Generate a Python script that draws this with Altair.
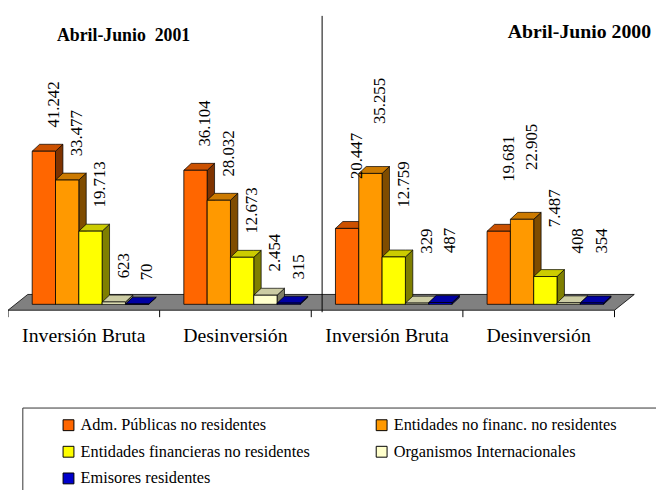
import altair as alt
import pandas as pd

# ---------------- data ----------------
periods = ["Abril-Junio \u00a02001", "Abril-Junio 2000"]
categories = ["Inversión Bruta", "Desinversión"]
series = [
    "Adm. Públicas no residentes",
    "Entidades no financ. no residentes",
    "Entidades financieras no residentes",
    "Organismos Internacionales",
    "Emisores residentes",
]
values_2001_inversion = [41242, 33477, 19713, 623, 70]
values_2001_desinversion = [36104, 28032, 12673, 2454, 315]
values_2000_inversion = [20447, 35255, 12759, 329, 487]
values_2000_desinversion = [19681, 22905, 7487, 408, 354]

colors = ["#FF6600", "#FF9900", "#FFFF00", "#FFFFCC", "#0000CC"]


def shade(hexc, f):
    r, g, b = (int(hexc[i:i + 2], 16) for i in (1, 3, 5))
    return "#%02X%02X%02X" % (int(r * f), int(g * f), int(b * f))


# legend is filled column by column: reorder so it reads row by row
legend_order = [0, 2, 4, 1, 3]
dom = [series[i] for i in legend_order]
front_rng = [colors[i] for i in legend_order]
top_rng = [shade(colors[i], 0.8) for i in legend_order]
side_rng = [shade(colors[i], 0.5) for i in legend_order]

# ---------------- geometry (scale set-up) ----------------
W, H = 656, 482
BAND = 153.5            # px per category band
PX_Y = 155 / 41242      # px per value unit
BASE = 297              # plot y of value 0
xs = alt.Scale(domain=[0, W / BAND], nice=False, zero=False)
ys = alt.Scale(domain=[(BASE - H) / PX_Y, BASE / PX_Y], nice=False, zero=False)

BAR_OFF = 24.5 / BAND
BAR_W = 23.6 / BAND
DX = 7.5 / BAND
DY = 7 / PX_Y
LABEL_SHIFT = 10 / BAND

panel_values = [
    [values_2001_inversion, values_2001_desinversion],
    [values_2000_inversion, values_2000_desinversion],
]

rows = []
for p in range(2):
    for g in range(2):
        band = 2 * p + g
        for s, name in enumerate(series):
            v = panel_values[p][g][s]
            x0 = band + BAR_OFF + s * BAR_W
            rows.append(dict(panel=p, band=band, cat=categories[g], serie=name,
                             v=v, x0=x0, x1=x0 + BAR_W, base=0,
                             xc=x0 + BAR_W / 2 + LABEL_SHIFT))
bars = pd.DataFrame(rows)

top_rows, side_rows = [], []
for i, r in bars.iterrows():
    v, x0, x1 = float(r.v), float(r.x0), float(r.x1)
    for (x, yt, yb) in [(x0, v, v), (x0 + DX, v + DY, v),
                        (x1, v + DY, v), (x1 + DX, v + DY, v + DY)]:
        top_rows.append(dict(bar=int(i), serie=r.serie, x=x, yt=yt, yb=yb))
    for (x, yt, yb) in [(x1, v, 0.0), (x1 + DX, v + DY, DY)]:
        side_rows.append(dict(bar=int(i), serie=r.serie, x=x, yt=yt, yb=yb))
tops = pd.DataFrame(top_rows)
sides = pd.DataFrame(side_rows)

FRONT_Y = -6 / PX_Y
BACK_Y = 10 / PX_Y
FLOOR_SHIFT = 20 / BAND
floor = pd.DataFrame(dict(
    x=[0.0, FLOOR_SHIFT, 4.0, 4 + FLOOR_SHIFT],
    yt=[FRONT_Y, BACK_Y, BACK_Y, BACK_Y],
    yb=[FRONT_Y, FRONT_Y, FRONT_Y, BACK_Y],
))

ticks = pd.DataFrame(dict(x=[0, 1, 2, 3, 4], y=[FRONT_Y] * 5, y2=[-13 / PX_Y] * 5))
cat_labels = pd.DataFrame(dict(
    x=[0.5, 1.5, 2.5, 3.5],
    y=[-38 / PX_Y] * 4,
    text=categories * 2,
))

FONT = "Liberation Serif"
one = pd.DataFrame({"a": [0]})

# ---------------- layers ----------------
legend_box = alt.Chart(one).mark_rect(
    fill="white", stroke="#333333", strokeWidth=1
).encode(x=alt.value(15), x2=alt.value(720), y=alt.value(402), y2=alt.value(560))

floor_layer = alt.Chart(floor).mark_area(
    orient="vertical", color="#808080", fillOpacity=1, opacity=1
).encode(
    x=alt.X("x:Q", scale=xs, axis=None),
    y=alt.Y("yt:Q", scale=ys, axis=None, stack=None),
    y2="yb:Q",
)

floor_edges = pd.DataFrame(dict(
    x=[0.0, FLOOR_SHIFT, 4.0],
    y=[FRONT_Y, BACK_Y, FRONT_Y],
    x2=[4.0, 4 + FLOOR_SHIFT, 4 + FLOOR_SHIFT],
    y2=[FRONT_Y, BACK_Y, BACK_Y],
))
floor_left = pd.DataFrame(dict(x=[0.0], y=[FRONT_Y], x2=[FLOOR_SHIFT], y2=[BACK_Y]))
edge_layer = alt.Chart(pd.concat([floor_edges, floor_left])).mark_rule(
    color="black", strokeWidth=0.8
).encode(
    x=alt.X("x:Q", scale=xs, axis=None), x2="x2:Q",
    y=alt.Y("y:Q", scale=ys, axis=None), y2="y2:Q",
)

tick_layer = alt.Chart(ticks).mark_rule(color="black", strokeWidth=1).encode(
    x=alt.X("x:Q", scale=xs, axis=None),
    y=alt.Y("y:Q", scale=ys, axis=None),
    y2="y2:Q",
)


def face_layer(df, rng):
    return alt.Chart(df).mark_area(
        orient="vertical", stroke="black", strokeWidth=0.7, fillOpacity=1, opacity=1
    ).encode(
        x=alt.X("x:Q", scale=xs, axis=None),
        y=alt.Y("yt:Q", scale=ys, axis=None, stack=None),
        y2="yb:Q",
        detail="bar:N",
        fill=alt.Fill("serie:N", scale=alt.Scale(domain=dom, range=rng), legend=None),
    )


side_layer = face_layer(sides, side_rng)
top_layer = face_layer(tops, top_rng)

front_layer = alt.Chart(bars).mark_rect(stroke="black", strokeWidth=0.8).encode(
    x=alt.X("x0:Q", scale=xs, axis=None),
    x2="x1:Q",
    y=alt.Y("v:Q", scale=ys, axis=None),
    y2="base:Q",
    color=alt.Color(
        "serie:N",
        scale=alt.Scale(domain=dom, range=front_rng),
        legend=alt.Legend(
            orient="none", legendX=53, legendY=411, columns=2,
            columnPadding=64, rowPadding=10, symbolType="square",
            symbolSize=121, symbolStrokeColor="black", symbolStrokeWidth=1,
            labelFont=FONT, labelFontSize=16.5, labelColor="black",
            labelLimit=400, labelOffset=4, title=None, padding=0,
        ),
    ),
)


def value_labels(panel, lift):
    return alt.Chart(bars).transform_filter(
        alt.datum.panel == panel
    ).transform_calculate(
        lab="replace(format(datum.v, ','), ',', '.')"
    ).mark_text(
        angle=270, align="left", baseline="middle", dx=lift,
        font=FONT, fontSize=17, color="black",
    ).encode(
        x=alt.X("xc:Q", scale=xs, axis=None),
        y=alt.Y("v:Q", scale=ys, axis=None),
        text="lab:N",
    )


cat_layer = alt.Chart(cat_labels).mark_text(
    font=FONT, fontSize=20, color="black", align="center", baseline="alphabetic"
).encode(
    x=alt.X("x:Q", scale=xs, axis=None),
    y=alt.Y("y:Q", scale=ys, axis=None),
    text="text:N",
)

separator = alt.Chart(one).mark_rule(color="black", strokeWidth=1).encode(
    x=alt.value(318), y=alt.value(5), y2=alt.value(305)
)

title1 = alt.Chart(one).mark_text(
    font=FONT, fontSize=18, fontWeight="bold", align="center", baseline="alphabetic", color="black"
).encode(x=alt.value(117), y=alt.value(30), text=alt.value(periods[0]))

title2 = alt.Chart(one).mark_text(
    font=FONT, fontSize=20, fontWeight="bold", align="right", baseline="alphabetic", color="black"
).encode(x=alt.value(651), y=alt.value(27), text=alt.value(periods[1]))

chart = alt.layer(
    legend_box, floor_layer, edge_layer, tick_layer, side_layer, top_layer, front_layer,
    value_labels(0, 24), value_labels(1, 50), cat_layer, separator, title1, title2,
).resolve_scale(
    fill="independent"
).properties(
    width=W, height=H, padding=0, autosize=alt.AutoSizeParams(type="none"),
).configure_view(stroke=None)

chart.save("out.html", embed_options={"renderer": "svg", "actions": False})
